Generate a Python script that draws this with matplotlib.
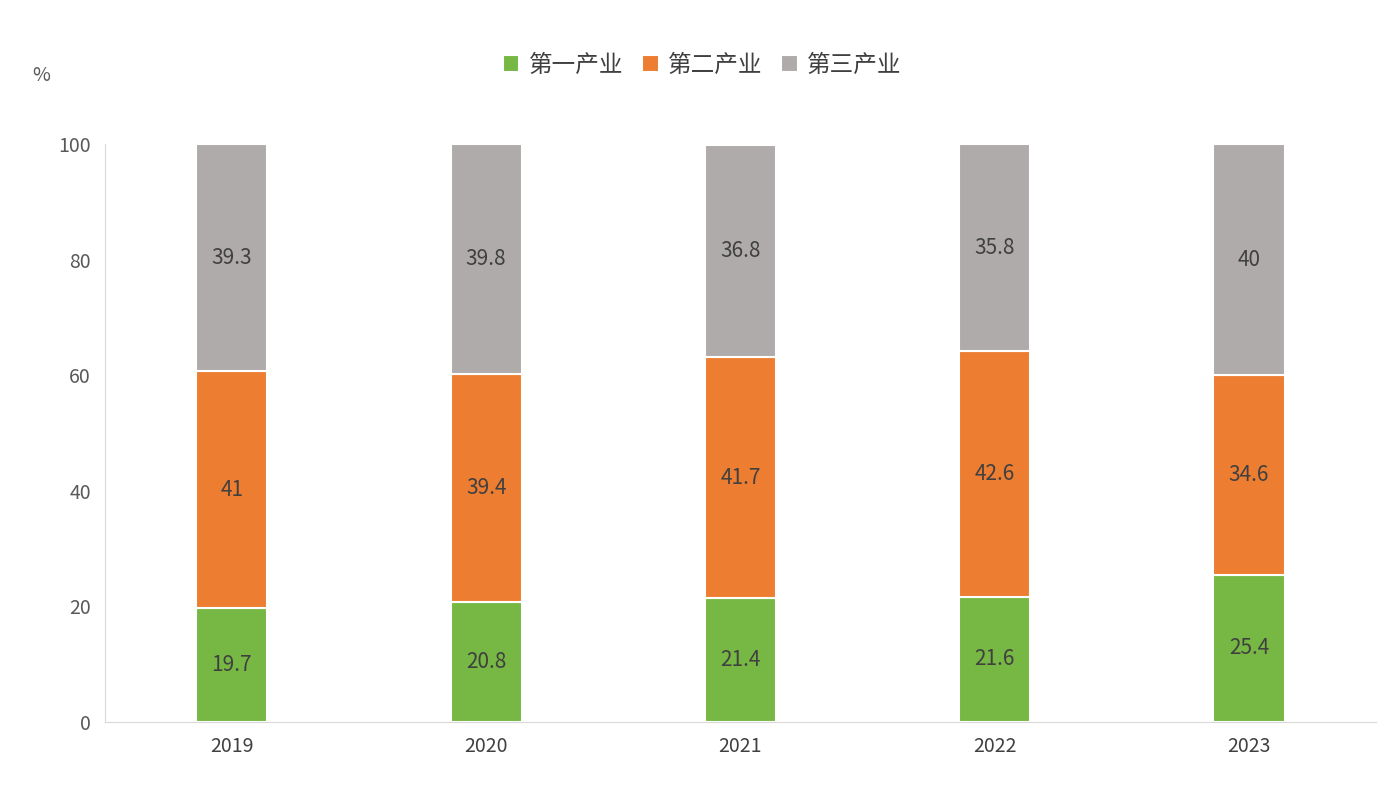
import matplotlib.pyplot as plt

plt.rcParams['font.family'] = ['Noto Sans CJK SC', 'DejaVu Sans']

years = ['2019', '2020', '2021', '2022', '2023']
first = [19.7, 20.8, 21.4, 21.6, 25.4]
second = [41, 39.4, 41.7, 42.6, 34.6]
third = [39.3, 39.8, 36.8, 35.8, 40]
colors = ['#76b843', '#ed7d31', '#afabab']
names = ['第一产业', '第二产业', '第三产业']

plt.figure(figsize=(13.97, 8.02), dpi=100)
plt.axes([0.075, 0.1, 0.91, 0.72])
x = range(len(years))
bottom = [0] * len(years)
for vals, c, n in zip([first, second, third], colors, names):
    bars = plt.bar(x, vals, 0.28, bottom=bottom, color=c, edgecolor='white', linewidth=1.5, label=n)
    for b, v, y0 in zip(bars, vals, bottom):
        plt.text(b.get_x() + b.get_width() / 2, y0 + v / 2, '{:g}'.format(v),
                 ha='center', va='center', fontsize=15, color='#404040')
    bottom = [a + v for a, v in zip(bottom, vals)]

plt.xlim(-0.5, 4.5)
plt.ylim(0, 100)
plt.xticks(x, years, fontsize=14, color='#404040')
plt.yticks(range(0, 101, 20), fontsize=14, color='#595959')
ax = plt.gca()
for s in ['top', 'right']:
    ax.spines[s].set_visible(False)
for s in ['left', 'bottom']:
    ax.spines[s].set_color('#d9d9d9')
ax.tick_params(length=0, pad=10)
plt.text(-0.75, 111, '%', fontsize=14, color='#595959', ha='center')
plt.legend(loc='lower center', bbox_to_anchor=(0.47, 1.08), ncol=3, frameon=False,
           fontsize=17, handlelength=0.7, handleheight=0.7, handletextpad=0.4,
           columnspacing=0.8, labelcolor='#404040')
plt.savefig('out.png')
